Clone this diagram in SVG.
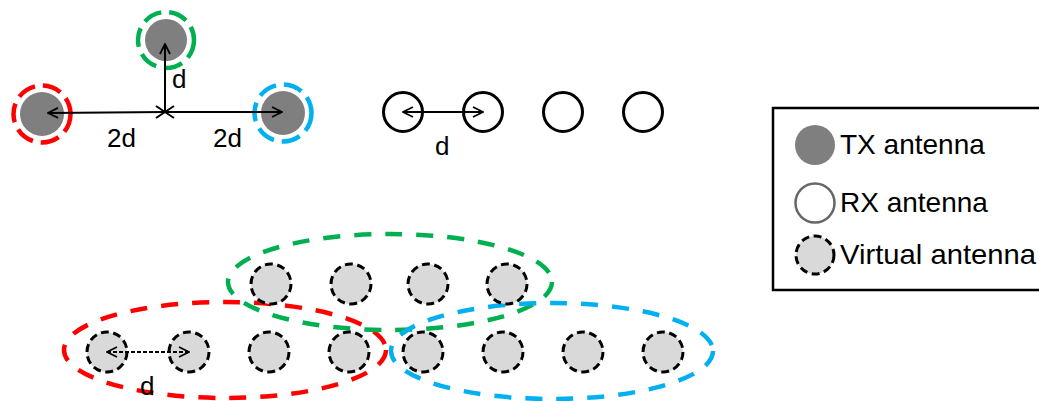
<svg xmlns="http://www.w3.org/2000/svg" width="1039" height="401" viewBox="0 0 1039 401">
<style>
.tx{fill:#7f7f7f;}
.rx{fill:none;stroke:#000;stroke-width:3;}
.va{fill:#d9d9d9;stroke:#000;stroke-width:3;stroke-dasharray:8 4.5;}
.ring{fill:none;stroke-width:4.5;stroke-dasharray:19 8;}
.ell{fill:none;stroke-width:4.5;stroke-dasharray:17 14;}
.lbl{font-family:"Liberation Sans",Arial,sans-serif;font-size:26px;fill:#000;}
.leg{font-family:"Liberation Sans",Arial,sans-serif;font-size:28px;fill:#000;}
.ln{stroke:#000;stroke-width:2;fill:none;}
</style>
<defs>
<marker id="ah" viewBox="0 0 12 12" refX="11" refY="6" markerWidth="12" markerHeight="12" markerUnits="userSpaceOnUse" orient="auto-start-reverse">
<path d="M1,1 L11,6 L1,11" fill="none" stroke="#000" stroke-width="1.8"/>
</marker>
</defs>

<g id="tx-green">
<circle class="tx" cx="166" cy="40" r="21"/>
<circle class="ring" cx="166" cy="40" r="28" stroke="#00b050"/>
</g>
<g id="tx-red">
<circle class="tx" cx="42" cy="114" r="22"/>
<circle class="ring" cx="42" cy="114" r="28.5" stroke="#ff0000"/>
</g>
<g id="tx-blue">
<circle class="tx" cx="283" cy="113" r="22"/>
<circle class="ring" cx="283" cy="113" r="28.5" stroke="#00b0f0"/>
</g>

<g id="rx-antennas">
<circle class="rx" cx="403" cy="112" r="19.5"/>
<circle class="rx" cx="483" cy="112" r="19.5"/>
<circle class="rx" cx="563" cy="112" r="19.5"/>
<circle class="rx" cx="643" cy="112" r="19.5"/>
</g>

<g id="ellipses">
<ellipse class="ell" cx="225" cy="350" rx="161" ry="48" stroke="#ff0000"/>
<ellipse class="ell" cx="390" cy="282" rx="162" ry="48" stroke="#00b050"/>
<ellipse class="ell" cx="552" cy="351" rx="161" ry="48" stroke="#00b0f0"/>
</g>

<g id="virtual-green">
<circle class="va" cx="271" cy="284" r="20"/>
<circle class="va" cx="351" cy="284" r="20"/>
<circle class="va" cx="428" cy="284" r="20"/>
<circle class="va" cx="507" cy="284" r="20"/>
</g>
<g id="virtual-red">
<circle class="va" cx="107" cy="352" r="20"/>
<circle class="va" cx="189" cy="352" r="20"/>
<circle class="va" cx="269" cy="352" r="20"/>
<circle class="va" cx="349" cy="352" r="20"/>
</g>
<g id="virtual-blue">
<circle class="va" cx="423" cy="352" r="20"/>
<circle class="va" cx="503" cy="352" r="20"/>
<circle class="va" cx="583" cy="352" r="20"/>
<circle class="va" cx="663" cy="352" r="20"/>
</g>

<g id="connectors">
<line class="ln" x1="165" y1="112" x2="48" y2="113" marker-end="url(#ah)"/>
<line class="ln" x1="165" y1="112" x2="282" y2="112" marker-end="url(#ah)"/>
<line class="ln" x1="165" y1="112" x2="165" y2="44" marker-end="url(#ah)" stroke="#444"/>
<path class="ln" d="M156,106 L174,118 M156,118 L174,106" stroke-width="1.5"/>
<line class="ln" x1="403" y1="112" x2="483" y2="112" marker-start="url(#ah)" marker-end="url(#ah)"/>
<line class="ln" x1="107" y1="352" x2="189" y2="352" stroke-dasharray="4 2" marker-start="url(#ah)" marker-end="url(#ah)"/>
</g>

<g id="labels">
<text class="lbl" x="172" y="88">d</text>
<text class="lbl" x="107" y="147">2d</text>
<text class="lbl" x="213" y="147">2d</text>
<text class="lbl" x="435" y="155">d</text>
<text class="lbl" x="140" y="395">d</text>
</g>

<g id="legend">
<rect x="773" y="108" width="290" height="182" fill="#fff" stroke="#000" stroke-width="2.5"/>
<circle class="tx" cx="815" cy="145" r="20"/>
<text class="leg" x="840" y="154">TX antenna</text>
<circle cx="815" cy="203" r="19.5" fill="#fff" stroke="#666" stroke-width="2.5"/>
<text class="leg" x="840" y="212">RX antenna</text>
<circle class="va" cx="815" cy="255" r="19"/>
<text class="leg" x="840" y="264" textLength="196" lengthAdjust="spacingAndGlyphs">Virtual antenna</text>
</g>
</svg>
